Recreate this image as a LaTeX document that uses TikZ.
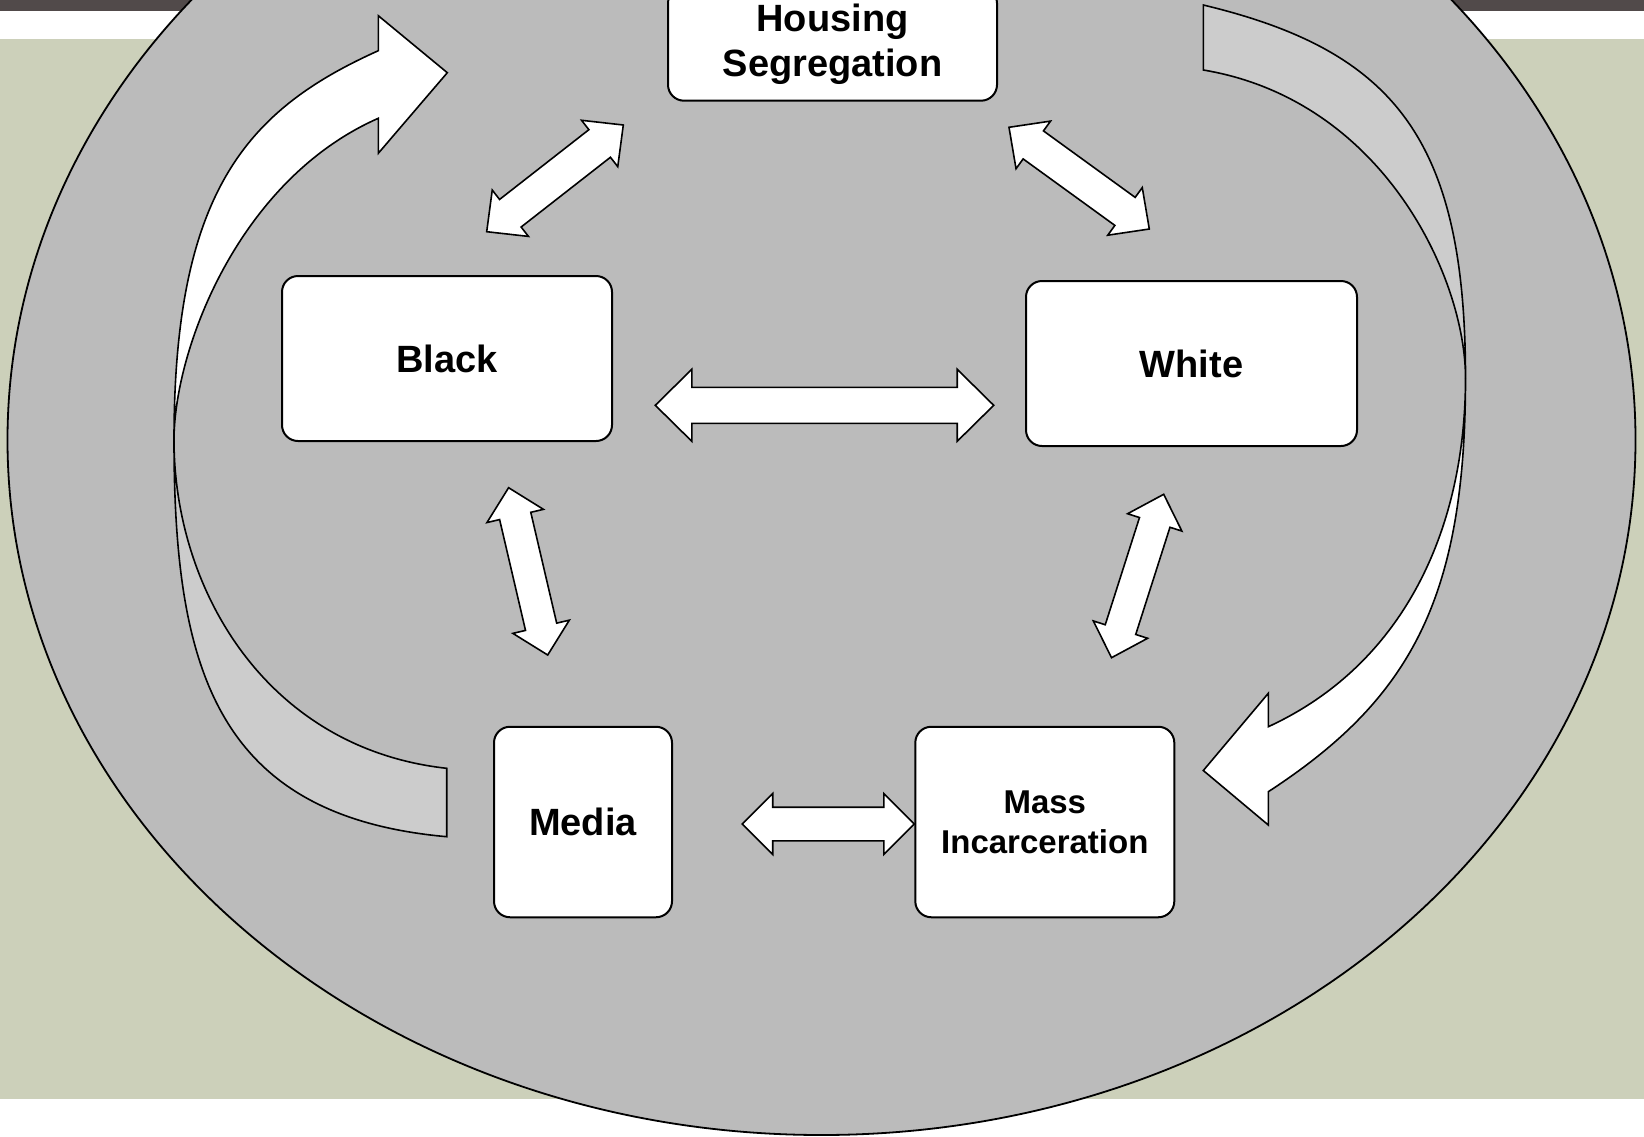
\documentclass[tikz,border=0pt]{standalone}
\usepackage{fontspec}
\setmainfont{Liberation Sans}
\usetikzlibrary{calc}
\definecolor{topbar}{HTML}{514A4A}
\definecolor{olivebg}{HTML}{CCD0BA}
\definecolor{ellgray}{HTML}{BBBBBB}
\definecolor{bandgray}{HTML}{CCCCCC}
% double block arrow between two named coordinates:
% #1 tip A, #2 tip B, #3 head length, #4 half head width, #5 half shaft width, #6 name
\newcommand\dblarrow[6]{%
  \draw[barrow] (#1) -- ($(#1)!#3!(#2)!#4!90:(#2)$) -- ($(#1)!#3!(#2)!#5!90:(#2)$)
   -- ($(#2)!#3!(#1)!#5!-90:(#1)$) -- ($(#2)!#3!(#1)!#4!-90:(#1)$) -- (#2)
   -- ($(#2)!#3!(#1)!#4!90:(#1)$) -- ($(#2)!#3!(#1)!#5!90:(#1)$)
   -- ($(#1)!#3!(#2)!#5!-90:(#2)$) -- ($(#1)!#3!(#2)!#4!-90:(#2)$) -- cycle;
  \coordinate (#6) at ($(#1)!0.5!(#2)$);}
\begin{document}
\begin{tikzpicture}[x=1pt,y=-1pt,
  box/.style={draw=black, line width=2pt, fill=white, rounded corners=16pt,
    inner sep=0pt, align=center, font=\fontsize{38}{45}\selectfont\bfseries},
  barrow/.style={draw=black, line width=1.6pt, fill=white, line join=miter},
  band/.style={draw=black, line width=1.6pt, line join=miter}]
\useasboundingbox (0,0) rectangle (1644,1136);
\clip (0,0) rectangle (1644,1136);
% background
\fill[white] (0,0) rectangle (1644,1136);
\fill[topbar] (0,0) rectangle (1644,11);
\fill[olivebg] (0,39) rectangle (1644,1099);
% big ellipse
\filldraw[fill=ellgray, draw=black, line width=1.8pt] (821.5,440) ellipse [x radius=814, y radius=695];

% named points of the curved arrows
\coordinate (TL) at (174,440);
\coordinate (TR) at (1465.5,378);

% left curved arrow: shaded lower part
\filldraw[band, fill=bandgray] (TL) .. controls (174,670) and (216.7,816) .. (446.7,836.7)
  -- (446.7,768.3) .. controls (266.7,748.5) and (174,590) .. (TL) -- cycle;
% left curved arrow: white upper part with head
\filldraw[band, fill=white] (TL) .. controls (174,190) and (248.3,109.2) .. (378.3,50.7)
  -- (378.3,15.7) -- (447.3,72.7) -- (378.3,153.3) -- (378.3,118.3)
  .. controls (238.3,179.9) and (174,350) .. (TL) -- cycle;

% right curved arrow: shaded upper part
\filldraw[band, fill=bandgray] (TR) .. controls (1465.5,138) and (1393.3,50.6) .. (1203.3,5)
  -- (1203.3,70) .. controls (1383.3,100) and (1465.5,278) .. (TR) -- cycle;
% right curved arrow: white lower part with head
\filldraw[band, fill=white] (TR) .. controls (1465.5,598) and (1410.8,698.9) .. (1268.3,791.7)
  -- (1268.3,825) -- (1203.3,770.5) -- (1268.3,693.3) -- (1268.3,726.7)
  .. controls (1404.5,664) and (1465.5,528) .. (TR) -- cycle;

% boxes
\node[box, minimum width=329pt, minimum height=113.4pt] (housing) at (832.5,44) {Housing\\Segregation};
\node[box, minimum width=330pt, minimum height=165pt] (black) at (447,358.5) {Black};
\node[box, minimum width=331pt, minimum height=165pt] (white) at (1191.5,363.5) {White};
\node[box, minimum width=178pt, minimum height=190.5pt] (media) at (583,822) {Media};
\node[box, minimum width=259pt, minimum height=190.5pt, font=\fontsize{33}{40}\selectfont\bfseries] (mass) at (1044.8,822) {Mass\\Incarceration};

% double block arrows
\coordinate (bhA) at (486.7,231.7);  \coordinate (bhB) at (623.3,125);
\coordinate (hwA) at (1009,127.3);   \coordinate (hwB) at (1149.3,229);
\coordinate (bwA) at (655.3,405.3);  \coordinate (bwB) at (993.7,405.3);
\coordinate (bmA) at (508.6,487.7);  \coordinate (bmB) at (547.7,655);
\coordinate (wmA) at (1163.7,494.3); \coordinate (wmB) at (1111.5,657.7);
\coordinate (mmA) at (742.3,824);    \coordinate (mmB) at (914.3,824);
\dblarrow{bhA}{bhB}{30pt}{29.4pt}{17.5pt}{bh}
\dblarrow{hwA}{hwB}{30pt}{29.4pt}{17.3pt}{hw}
\dblarrow{bwA}{bwB}{36.5pt}{36pt}{18pt}{bw}
\dblarrow{bmA}{bmB}{29pt}{29pt}{16pt}{bm}
\dblarrow{wmA}{wmB}{29.5pt}{28.5pt}{16pt}{wm}
\dblarrow{mmA}{mmB}{30.4pt}{30.4pt}{16.8pt}{mm}
\end{tikzpicture}
\end{document}
